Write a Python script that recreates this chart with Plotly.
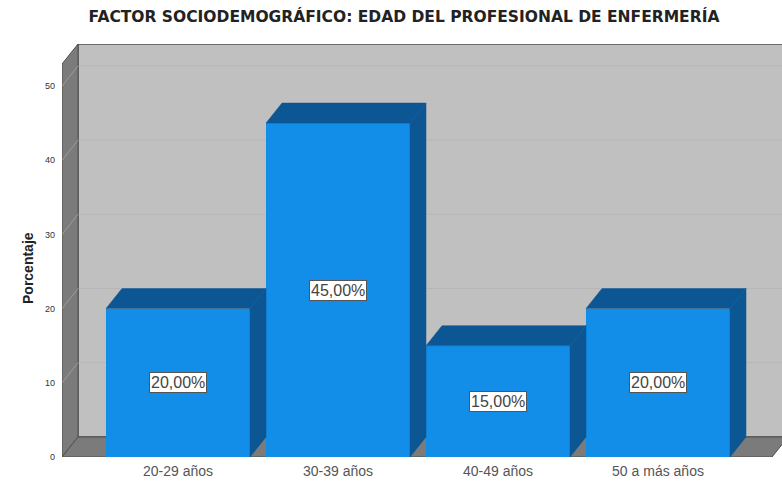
import plotly.graph_objects as go

# ---- data ----
categories = ["20-29 años", "30-39 años", "40-49 años", "50 a más años"]
values = [20.0, 45.0, 15.0, 20.0]
y_ticks = [0, 10, 20, 30, 40, 50]
title_text = "FACTOR SOCIODEMOGRÁFICO: EDAD DEL PROFESIONAL DE ENFERMERÍA"
y_title = "Porcentaje"

# ---- geometry / style ----
W, H = 782, 488
ML, MR, MT, MB = 62, 0, 44, 31
X0, X1 = -0.725, 3.775
YMAX = 55.66
DX = 0.1       # depth offset in x (data units)
DY = 2.7       # depth offset in y (data units)
BAR_W = 0.9
FRONT = "rgb(18,141,232)"
DARK = "rgb(12,86,148)"
WALL = "#c0c0c0"
SIDEWALL = "#7b7b7b"
FONT = "Liberation Sans, Arial, sans-serif"

xs = list(range(len(categories)))

fig = go.Figure()

# front faces of bars
fig.add_trace(go.Bar(
    x=xs, y=values, width=BAR_W, marker=dict(color=FRONT, line=dict(width=0)),
    hoverinfo="skip", showlegend=False))

# top and side faces built from the data
for xc, v in zip(xs, values):
    l, r = xc - BAR_W / 2, xc + BAR_W / 2
    fig.add_trace(go.Scatter(
        x=[l, r, r + DX, l + DX, l], y=[v, v, v + DY, v + DY, v],
        fill="toself", fillcolor=DARK, mode="lines",
        line=dict(color=DARK, width=0.5), hoverinfo="skip", showlegend=False))
    fig.add_trace(go.Scatter(
        x=[r, r + DX, r + DX, r, r], y=[0, DY, v + DY, v, 0],
        fill="toself", fillcolor=DARK, mode="lines",
        line=dict(color=DARK, width=0.5), hoverinfo="skip", showlegend=False))

shapes = []
# back wall
shapes.append(dict(type="rect", xref="x", yref="y", x0=X0 + DX, x1=X1 + 0.2, y0=DY, y1=YMAX,
                   fillcolor=WALL, line=dict(color="#505050", width=1.5), layer="below"))
# gridlines on back wall
for t in y_ticks[1:]:
    shapes.append(dict(type="line", xref="x", yref="y", x0=X0 + DX, x1=X1 + 0.2,
                       y0=t + DY, y1=t + DY, line=dict(color="#b6b6b6", width=1), layer="below"))
# left wall
shapes.append(dict(type="path", xref="x", yref="y",
                   path=f"M {X0},0 L {X0},{YMAX - DY} L {X0 + DX},{YMAX} L {X0 + DX},{DY} Z",
                   fillcolor=SIDEWALL, line=dict(color="#505050", width=1), layer="below"))
for t in y_ticks[1:]:
    shapes.append(dict(type="line", xref="x", yref="y", x0=X0, x1=X0 + DX,
                       y0=t, y1=t + DY, line=dict(color="#9c9c9c", width=1), layer="below"))
# floor
xf = 3.7125
shapes.append(dict(type="path", xref="x", yref="y",
                   path=f"M {X0},0 L {xf},0 L {xf + DX},{DY} L {X0 + DX},{DY} Z",
                   fillcolor=SIDEWALL, line=dict(color="#505050", width=1), layer="below"))

annotations = []
for xc, v in zip(xs, values):
    annotations.append(dict(
        x=xc, y=v / 2, xref="x", yref="y", showarrow=False,
        text=f"{v:.2f}".replace(".", ",") + "%",
        font=dict(family=FONT, size=16, color="#444444"),
        bgcolor="white", bordercolor="#555555", borderwidth=1, borderpad=1))
annotations.append(dict(
    x=(18 - ML) / (W - ML - MR), y=(457 - 268) / (457 - MT), xref="paper", yref="paper",
    text=f"<b>{y_title}</b>", textangle=-90, showarrow=False,
    font=dict(family=FONT, size=14, color="#222222")))

fig.update_layout(
    width=W, height=H,
    margin=dict(l=ML, r=MR, t=MT, b=MB),
    paper_bgcolor="white", plot_bgcolor="white",
    title=dict(text=f"<b>{title_text}</b>", x=404 / W, xref="container", xanchor="center",
               y=1 - 17 / H, yref="container", yanchor="middle",
               font=dict(family="DejaVu Sans, sans-serif", size=15.5, color="#222222")),
    xaxis=dict(range=[X0, X1], tickvals=xs, ticktext=categories, showgrid=False,
               zeroline=False, showline=False, ticks="", ticklabelstandoff=4,
               tickfont=dict(family=FONT, size=14, color="#555555"),
               fixedrange=True),
    yaxis=dict(range=[0, YMAX], tickvals=y_ticks, showgrid=False, zeroline=False,
               showline=False, ticks="", ticklabelstandoff=6,
               tickfont=dict(family=FONT, size=9, color="#333333"),
               fixedrange=True),
    shapes=shapes, annotations=annotations, bargap=0, showlegend=False,
)

fig.write_html("out.html", config={"displayModeBar": False},
               post_script="document.body.style.margin='0';document.body.style.padding='0';")
